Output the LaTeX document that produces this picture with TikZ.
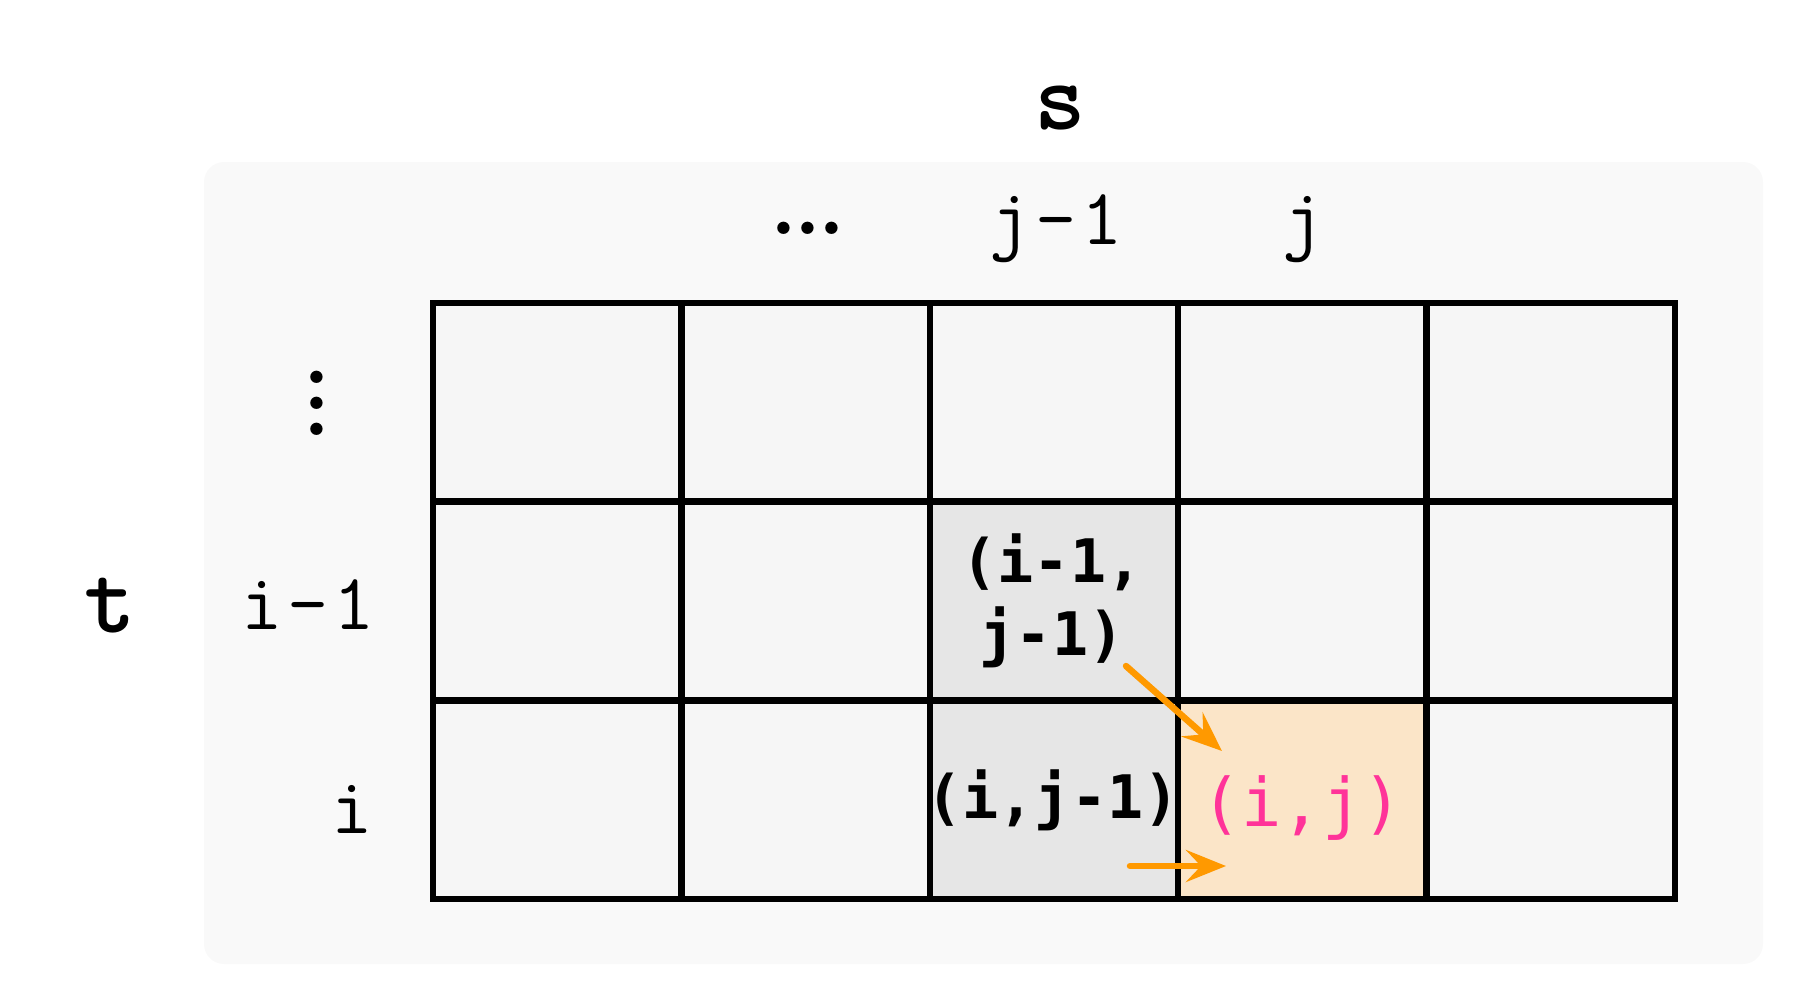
\documentclass[tikz,border=0pt]{standalone}
\usepackage{fontspec}
\usetikzlibrary{arrows.meta}
\newfontfamily\dvmono{DejaVu Sans Mono}
\newfontfamily\lmmonosp{Latin Modern Mono}[LetterSpace=6]
\definecolor{bgpanel}{HTML}{F9F9F9}
\definecolor{cellbg}{HTML}{F6F6F6}
\definecolor{greycell}{HTML}{E6E6E6}
\definecolor{peach}{HTML}{FBE5C8}
\definecolor{pinktxt}{HTML}{FF3399}
\definecolor{arrorange}{HTML}{FF9900}
\tikzset{
  cell/.style={draw=black, line width=6.5pt, fill=cellbg, minimum width=248.4pt, minimum height=198.7pt, inner sep=0pt, outer sep=0pt},
  cell 12/.style={fill=greycell},
  cell 22/.style={fill=greycell},
  cell 23/.style={fill=peach},
  axislab/.style={font=\ttfamily\bfseries\fontsize{98}{110}\selectfont, inner sep=0pt},
  idxlab/.style={font=\lmmonosp\fontsize{80}{90}\selectfont, inner sep=0pt},
  celltxt/.style={font=\dvmono\bfseries\fontsize{60}{73}\selectfont, inner sep=0pt},
  goaltxt/.style={font=\dvmono\fontsize{67}{73}\selectfont, text=pinktxt, inner sep=0pt},
  dotlab/.style={font=\rmfamily\bfseries\fontsize{86}{26}\selectfont, inner sep=0pt},
  steparrow/.style={draw=arrorange, line width=6.5pt, -{Stealth[length=40pt, width=32pt, inset=15pt]}}
}
\begin{document}
\begin{tikzpicture}[x=1pt, y=-1pt]
\useasboundingbox (0,0) rectangle (1799,1002);
\fill[bgpanel, rounded corners=20pt] (204,162) rectangle (1763,964);
% grid cells
\foreach \r in {0,1,2}{
  \foreach \c in {0,...,4}{
    \node[cell, cell \r\c/.try] (c\r\c) at ({433+248.4*(\c+0.5)}, {303+198.7*(\r+0.5)}) {};
  }
}
% axis labels
\node[axislab] (s) at (1060,108) {s};
\node[axislab] (t) at (110,606) {t};
% column labels
\node[dotlab] (cdots) at (808,228) {.\kern-2.5pt.\kern-2.5pt.};
\node[idxlab, anchor=base] (cjm1) at (1056,244) {j-1};
\node[idxlab, anchor=base] (cj) at (1303,244) {j};
% row labels
\node[dotlab, align=center] (rdots) at (317,403) {.\\.\\.};
\node[idxlab, anchor=base east] (rim1) at (375,629) {i-1};
\node[idxlab, anchor=base east] (ri) at (373,833) {i};
% cell texts
\node[celltxt, align=center] (tdiag) at (1052,601) {(i-1,\\j-1)};
\node[celltxt, anchor=base] (tleft) at (1053,818) {(i,j-1)};
\node[goaltxt, anchor=base] (tgoal) at (1302,826) {(i,j)};
% arrows
\coordinate (a1s) at (1126,666);
\coordinate (a1e) at (1222,751);
\coordinate (a2s) at (1130,866);
\coordinate (a2e) at (1226,866);
\draw[steparrow, line cap=round] (a1s) -- (a1e);
\draw[steparrow, line cap=round] (a2s) -- (a2e);
\end{tikzpicture}
\end{document}
